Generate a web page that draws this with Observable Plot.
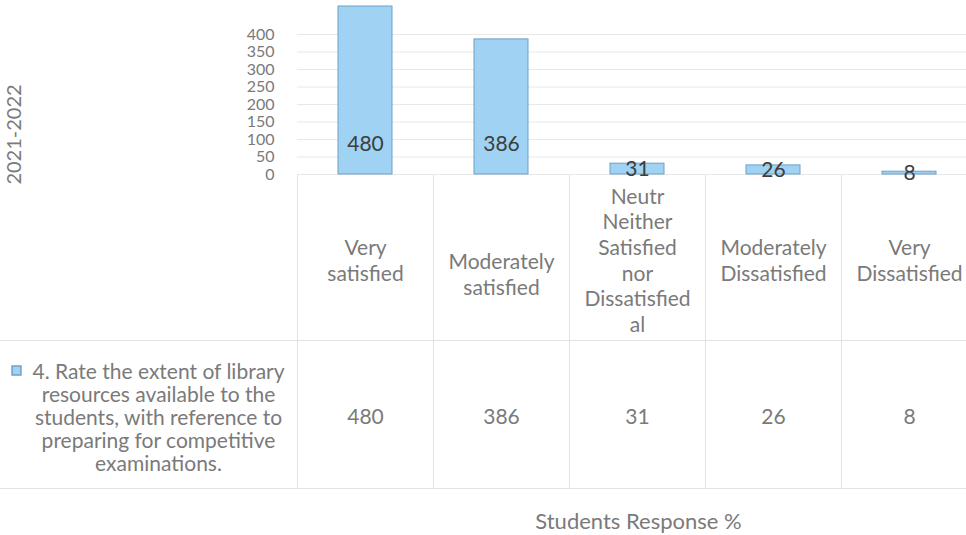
<!DOCTYPE html>
<html><head><meta charset="utf-8">
<script src="https://cdn.jsdelivr.net/npm/d3@7"></script>
<script src="https://cdn.jsdelivr.net/npm/@observablehq/plot@0.6"></script>
<style>
html,body{margin:0;padding:0;background:#fff;}
#chart svg{display:block;}
</style></head><body><div id="chart"></div>
<script>
// ---- data ----
const categories = ["Very satisfied", "Moderately satisfied", "Neither Satisfied nor Dissatisfied", "Moderately Dissatisfied", "Very Dissatisfied"];
const categoryLabels = ["Very\nsatisfied", "Moderately\nsatisfied", "Neutr\nNeither\nSatisfied\nnor\nDissatisfied\nal", "Moderately\nDissatisfied", "Very\nDissatisfied"];
const values = [480, 386, 31, 26, 8];
const yTicks = [0, 50, 100, 150, 200, 250, 300, 350, 400];
const seriesName = "4. Rate the extent of library\nresources available to the\nstudents, with reference to\npreparing for competitive\nexaminations.";
const periodLabel = "2021-2022";
const axisTitle = "Students Response %";

const data = categories.map((c, i) => ({category: c, label: categoryLabels[i], value: values[i]}));

const FONT = "Lato, 'Open Sans', sans-serif";
const grey = "#7a7a7a";
const barFill = "#9fd2f3";
const barStroke = "#6f9fc6";
const ML = 297;

const plot = Plot.plot({
  width: 966, height: 535,
  marginLeft: ML, marginRight: 0, marginTop: 0, marginBottom: 0,
  style: {fontFamily: FONT, fontSize: "21px", color: grey, background: "#fff"},
  x: {domain: categories, range: [297, 977], paddingInner: 0.6, paddingOuter: 0.3, axis: null},
  y: {domain: [0, 400], range: [174, 34], axis: null},
  marks: [
    Plot.gridY(yTicks, {stroke: "#e8e8e8", strokeOpacity: 1}),
    Plot.axisY(yTicks, {tickSize: 0, tickPadding: 23, fontSize: 16, fill: grey, label: null}),
    Plot.barY(data, {x: "category", y: "value", fill: barFill, stroke: barStroke, strokeWidth: 1}),
    Plot.text(data, {x: "category", y: d => Math.min(d.value, 170) / 2, text: d => String(d.value), fill: "#3d3d3d", fontSize: 21}),
    Plot.text(data.filter(d => d.category !== "Moderately satisfied"), {x: "category", text: "label", frameAnchor: "top", dy: 259, lineAnchor: "middle", lineHeight: 1.22, fill: grey, fontSize: 21}),
    Plot.text(data.filter(d => d.category === "Moderately satisfied"), {x: "category", text: "label", frameAnchor: "top", dy: 273, lineAnchor: "middle", lineHeight: 1.22, fill: grey, fontSize: 21}),
    Plot.text(data, {x: "category", text: d => String(d.value), frameAnchor: "top", dy: 417, lineAnchor: "middle", fill: grey, fontSize: 21}),
    Plot.text([seriesName], {frameAnchor: "top-left", dx: 158 - ML, dy: 417, lineAnchor: "middle", textAnchor: "middle", lineHeight: 1.1, fill: grey, fontSize: 21}),
    Plot.dot([seriesName], {frameAnchor: "top-left", dx: 16 - ML, dy: 370, symbol: "square", r: 5, fill: barFill, stroke: barStroke}),
    Plot.text([periodLabel], {frameAnchor: "top-left", dx: 14 - ML, dy: 134, rotate: -90, textAnchor: "middle", lineAnchor: "middle", fill: grey, fontSize: 20}),
    Plot.text([axisTitle], {frameAnchor: "top-left", dx: 638 - ML, dy: 521, textAnchor: "middle", lineAnchor: "middle", fill: grey, fontSize: 22})
  ]
});

document.getElementById("chart").append(plot);

// table borders (Excel data table)
const xs = plot.scale("x");
const svg = d3.select(plot);
const lines = svg.insert("g", ":first-child").attr("stroke", "#e3e3e3").attr("stroke-width", 1);
categories.forEach(c => {
  const x0 = Math.round(xs.apply(c) - (xs.step - xs.bandwidth) / 2) + 0.5;
  lines.append("line").attr("x1", x0).attr("x2", x0).attr("y1", 174).attr("y2", 488);
});
[340.5, 488.5].forEach(y => lines.append("line").attr("x1", 0).attr("x2", 966).attr("y1", y).attr("y2", y));
</script>
</body></html>
